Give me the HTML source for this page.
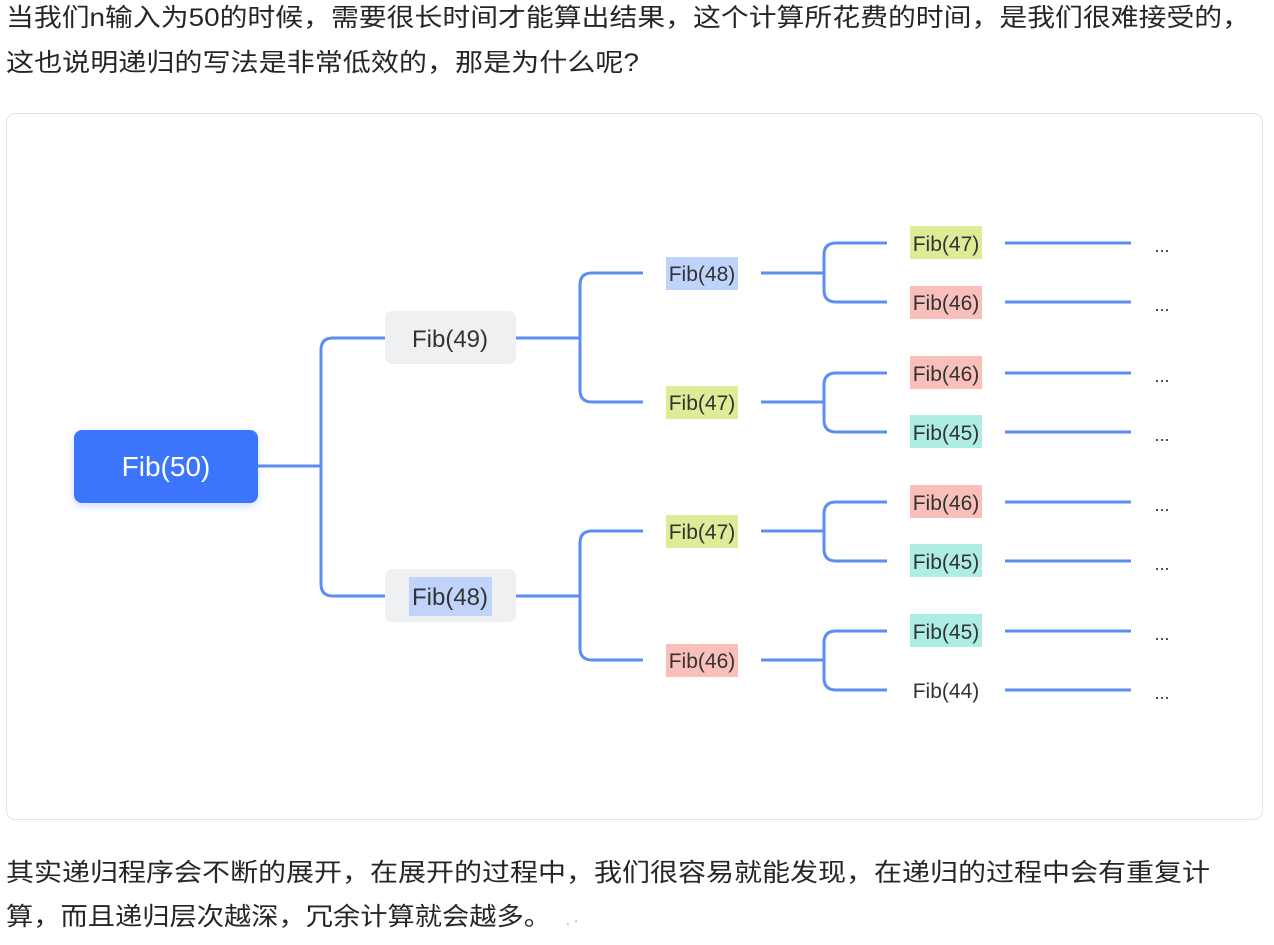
<!DOCTYPE html>
<html><head><meta charset="utf-8"><style>
html,body{margin:0;padding:0;background:#fff;}
svg{display:block;}
text{font-family:"Liberation Sans","Noto Sans CJK SC",sans-serif;}
</style></head><body>
<svg width="1274" height="945" viewBox="0 0 1274 945" xmlns="http://www.w3.org/2000/svg">
<g fill="#262626" font-size="25">
<text x="6" y="26" textLength="1244" lengthAdjust="spacingAndGlyphs">当我们n输入为50的时候，需要很长时间才能算出结果，这个计算所花费的时间，是我们很难接受的，</text>
<text x="6" y="71" textLength="633" lengthAdjust="spacingAndGlyphs">这也说明递归的写法是非常低效的，那是为什么呢?</text>
<text x="6" y="881" textLength="1204" lengthAdjust="spacingAndGlyphs">其实递归程序会不断的展开，在展开的过程中，我们很容易就能发现，在递归的过程中会有重复计</text>
<text x="6" y="925" textLength="545" lengthAdjust="spacingAndGlyphs">算，而且递归层次越深，冗余计算就会越多。</text>
<text x="566" y="925" font-size="14" fill="#999">. ·</text>
</g>
<rect x="6.5" y="113.5" width="1256" height="706" rx="9" fill="#fff" stroke="#e3e3e3"/>
<defs><filter id="sh" x="-20%" y="-30%" width="140%" height="160%"><feDropShadow dx="0" dy="3" stdDeviation="4" flood-color="#3b74fb" flood-opacity="0.25"/></filter></defs>
<g fill="none" stroke="#5a8ef5" stroke-width="3">
<path d="M258 466H321"/>
<path d="M385 338H333Q321 338 321 350V584Q321 596 333 596H385"/>
<path d="M516 338H580M516 596H580"/>
<path d="M643 273H592Q580 273 580 285V390Q580 402 592 402H643"/>
<path d="M643 531H592Q580 531 580 543V648Q580 660 592 660H643"/>
<path d="M761 273H824M761 402H824M761 531H824M761 660H824"/>
<path d="M887 243H836Q824 243 824 255V290Q824 302 836 302H887"/>
<path d="M887 373H836Q824 373 824 385V420Q824 432 836 432H887"/>
<path d="M887 502H836Q824 502 824 514V549Q824 561 836 561H887"/>
<path d="M887 631H836Q824 631 824 643V678Q824 690 836 690H887"/>
<path d="M1005 243H1131M1005 302H1131M1005 373H1131M1005 432H1131M1005 502H1131M1005 561H1131M1005 631H1131M1005 690H1131"/>
</g>
<rect x="74" y="430" width="184" height="73" rx="8" fill="#3b74fb" filter="url(#sh)"/>
<text x="166" y="476" font-size="28" fill="#fff" text-anchor="middle">Fib(50)</text>
<rect x="385" y="311" width="131" height="53" rx="7" fill="#eff0f2"/>
<rect x="385" y="569" width="131" height="53" rx="7" fill="#eff0f2"/>
<rect x="409" y="577" width="83" height="39" fill="#c0d4fb"/>
<g font-size="24" fill="#333" text-anchor="middle">
<text x="450" y="347">Fib(49)</text>
<text x="450" y="605">Fib(48)</text>
</g>
<g>
<rect x="666" y="257" width="72" height="33" fill="#c0d4fb"/>
<rect x="666" y="386" width="72" height="33" fill="#dfeb97"/>
<rect x="666" y="515" width="72" height="33" fill="#dfeb97"/>
<rect x="666" y="644" width="72" height="33" fill="#f9c0bb"/>
<rect x="910" y="226" width="72" height="33" fill="#dfeb97"/>
<rect x="910" y="286" width="72" height="33" fill="#f9c0bb"/>
<rect x="910" y="356" width="72" height="33" fill="#f9c0bb"/>
<rect x="910" y="415" width="72" height="33" fill="#aeede3"/>
<rect x="910" y="485" width="72" height="33" fill="#f9c0bb"/>
<rect x="910" y="544" width="72" height="33" fill="#aeede3"/>
<rect x="910" y="614" width="72" height="33" fill="#aeede3"/>
</g>
<g font-size="21" fill="#333" text-anchor="middle">
<text x="702" y="281">Fib(48)</text>
<text x="702" y="410">Fib(47)</text>
<text x="702" y="539">Fib(47)</text>
<text x="702" y="668">Fib(46)</text>
<text x="946" y="251">Fib(47)</text>
<text x="946" y="310">Fib(46)</text>
<text x="946" y="381">Fib(46)</text>
<text x="946" y="440">Fib(45)</text>
<text x="946" y="510">Fib(46)</text>
<text x="946" y="569">Fib(45)</text>
<text x="946" y="639">Fib(45)</text>
<text x="946" y="698">Fib(44)</text>
</g>
<g font-size="18" fill="#333" text-anchor="middle">
<text x="1162" y="252">...</text>
<text x="1162" y="311">...</text>
<text x="1162" y="382">...</text>
<text x="1162" y="441">...</text>
<text x="1162" y="511">...</text>
<text x="1162" y="570">...</text>
<text x="1162" y="640">...</text>
<text x="1162" y="699">...</text>
</g>
</svg>
</body></html>
